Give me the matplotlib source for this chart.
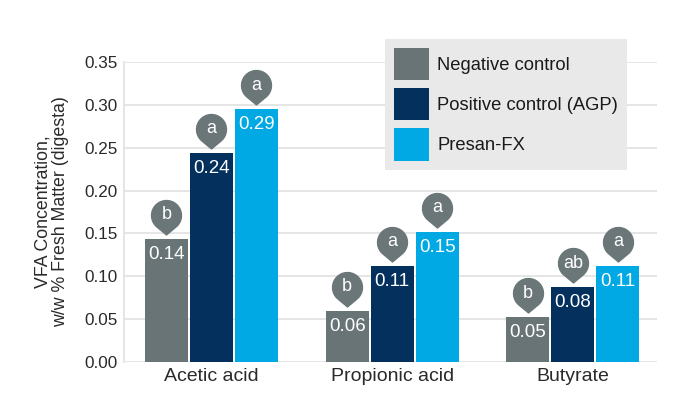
import numpy as np
import matplotlib
matplotlib.use("Agg")
import matplotlib.pyplot as plt
from matplotlib.path import Path
from matplotlib.transforms import ScaledTranslation

plt.rcParams['font.family'] = ['Liberation Sans', 'DejaVu Sans']

categories = ['Acetic acid', 'Propionic acid', 'Butyrate']
series_names = ['Negative control', 'Positive control (AGP)', 'Presan-FX']
neg_values = [0.144, 0.060, 0.052]
pos_values = [0.244, 0.112, 0.087]
presan_values = [0.295, 0.152, 0.112]
neg_labels = ['0.14', '0.06', '0.05']
pos_labels = ['0.24', '0.11', '0.08']
presan_labels = ['0.29', '0.15', '0.11']
neg_letters = ['b', 'b', 'b']
pos_letters = ['a', 'a', 'ab']
presan_letters = ['a', 'a', 'a']
yticks = [0.00, 0.05, 0.10, 0.15, 0.20, 0.25, 0.30, 0.35]

colors = ['#687476', '#03305d', '#00a9e4']
pin_color = '#6b7678'

all_values = [neg_values, pos_values, presan_values]
all_labels = [neg_labels, pos_labels, presan_labels]
all_letters = [neg_letters, pos_letters, presan_letters]

fig = plt.figure(figsize=(6.96, 4.01), dpi=100)
ax = fig.add_axes([124/696, 1-362/401, (657-124)/696, 300/401])

x = np.arange(len(categories))
width = 0.238
offsets = [-0.249, 0.0, 0.249]

# teardrop pin marker (origin at circle centre)
d = 1.3
th = np.degrees(np.arccos(1/d))
angs = np.radians(np.linspace(-90+th, 270-th, 60))
verts = [(np.cos(a), np.sin(a)) for a in angs] + [(0, -d), (np.cos(angs[0]), np.sin(angs[0]))]
codes = [Path.MOVETO] + [Path.LINETO]*(len(verts)-2) + [Path.CLOSEPOLY]
pin = Path(verts, codes)

pin_tr = ax.transData + ScaledTranslation(0, 24/100, fig.dpi_scale_trans)
lab_tr = ax.transData + ScaledTranslation(0, -15.5/100, fig.dpi_scale_trans)

for i in range(3):
    xs = x + offsets[i]
    ax.bar(xs, all_values[i], width=width, color=colors[i], label=series_names[i], zorder=3)
    for xi, v, lab, let in zip(xs, all_values[i], all_labels[i], all_letters[i]):
        ax.text(xi, v, lab, transform=lab_tr, ha='center', va='center',
                color='white', fontsize=13.5, zorder=5)
        ax.plot([xi], [v], marker=pin, markersize=28, color=pin_color,
                transform=pin_tr, zorder=4, clip_on=False, linestyle='none')
        ax.text(xi, v, let, transform=pin_tr, ha='center', va='center',
                color='white', fontsize=13, zorder=6)

ax.set_xlim(-0.484, 2.466)
ax.set_ylim(0, 0.35)
ax.set_yticks(yticks)
ax.set_yticklabels([f'{t:.2f}' for t in yticks])
ax.set_xticks(x)
ax.set_xticklabels(categories)
ax.tick_params(axis='y', length=0, pad=4.5, labelsize=12.3, labelcolor='#2a2a2a')
ax.tick_params(axis='x', length=0, pad=4.5, labelsize=14, labelcolor='#2a2a2a')
ax.yaxis.grid(True, color='#e3e3e3', linewidth=1.3, zorder=0)
ax.set_axisbelow(True)
for s in ['top', 'right', 'bottom']:
    ax.spines[s].set_visible(False)
ax.spines['left'].set_color('#e3e3e3')
ax.spines['left'].set_linewidth(1.3)

ax.set_ylabel('VFA Concentration,\nw/w % Fresh Matter (digesta)', fontsize=12.8,
              color='#2a2a2a', linespacing=1.05, labelpad=11)

leg = ax.legend(loc='upper left', bbox_to_anchor=(385/696, 1-39/401),
                bbox_transform=fig.transFigure, borderaxespad=0,
                fontsize=13.2, handlelength=1.91, handleheight=2.315,
                handletextpad=0.44, labelspacing=0.44, borderpad=0.5,
                frameon=True, fancybox=False, framealpha=1)
leg.get_frame().set_facecolor('#e9e9e9')
leg.get_frame().set_edgecolor('none')
for t in leg.get_texts():
    t.set_color('#1a1a1a')

fig.savefig('out.png', dpi=100)
